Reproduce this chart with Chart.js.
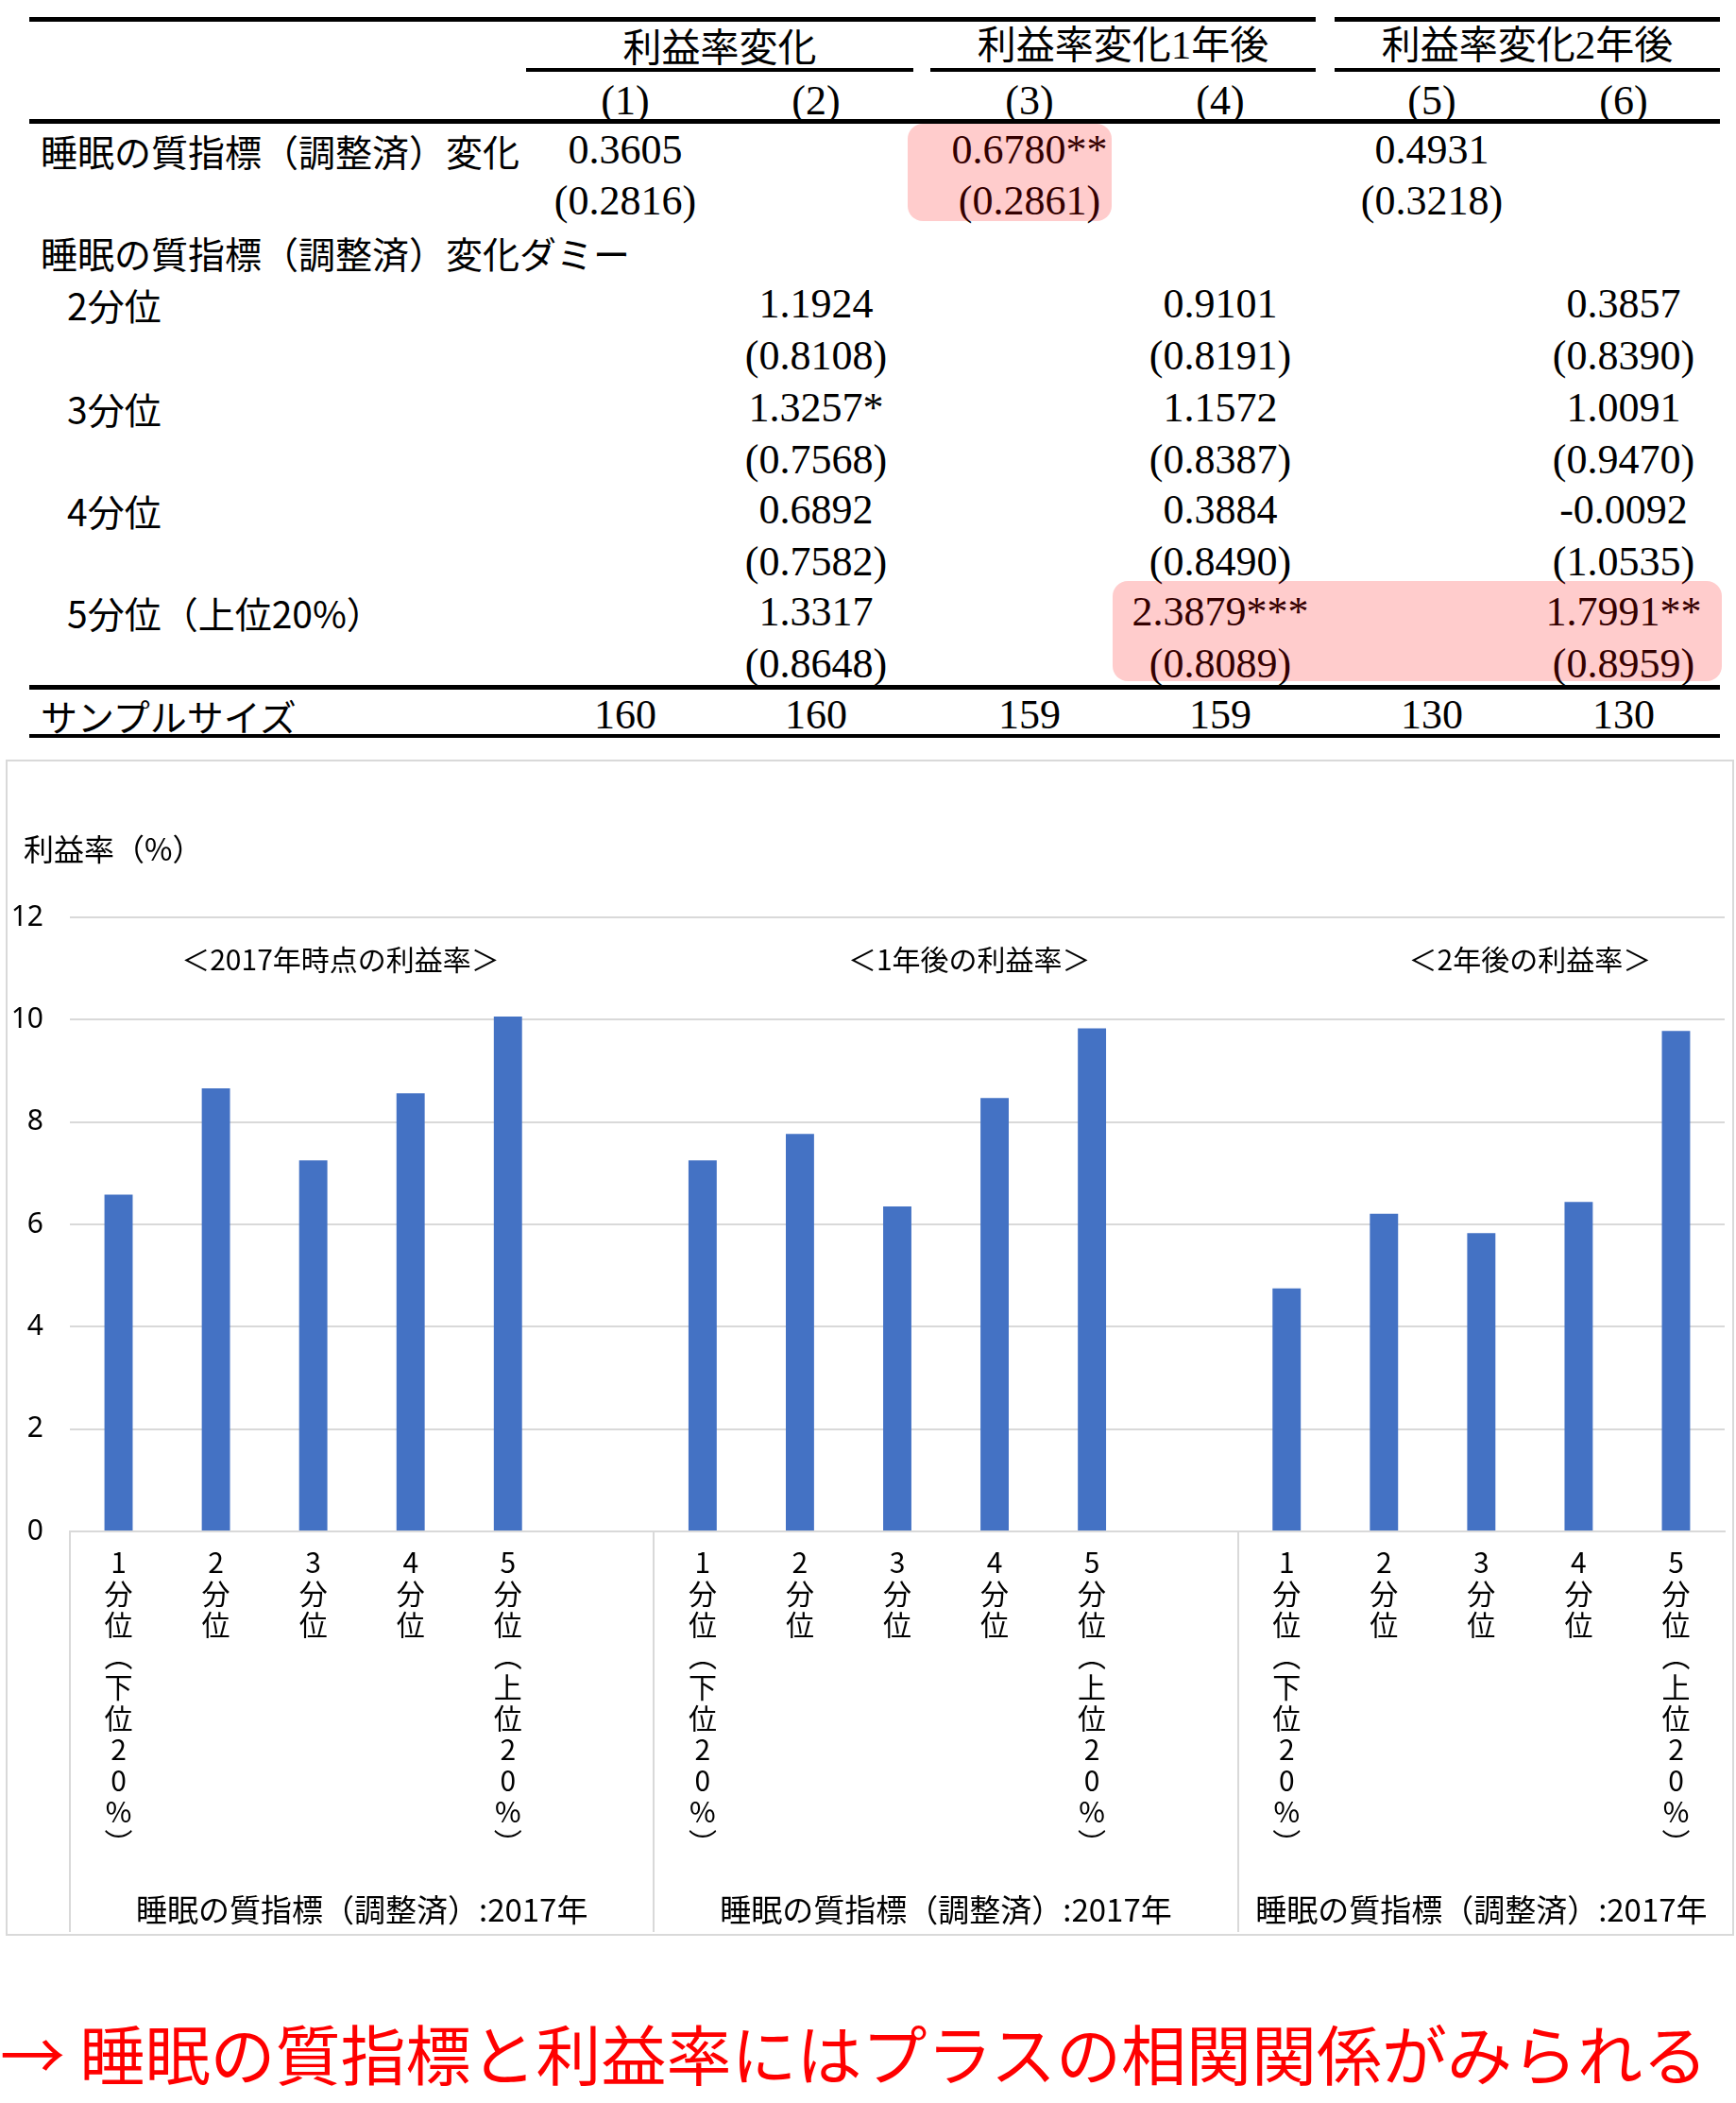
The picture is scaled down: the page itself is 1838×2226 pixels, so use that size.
<!DOCTYPE html>
<html lang="ja">
<head>
<meta charset="utf-8">
<script src="https://cdn.jsdelivr.net/npm/chart.js@4.4.1/dist/chart.umd.min.js"></script>
<style>
html,body{margin:0;padding:0;background:#fff;}
body{width:1838px;height:2226px;position:relative;overflow:hidden;font-family:"Noto Sans CJK JP",sans-serif;}
.t{position:absolute;white-space:nowrap;line-height:1;color:#000;}
.jp{font-family:"Noto Sans CJK JP",sans-serif;transform:translateY(-50%);}
.jpc{font-family:"Noto Sans CJK JP",sans-serif;transform:translate(-50%,-50%);}
.jpc .d{font-family:"Liberation Serif","Times New Roman",serif;font-size:1.05em;}
.num{font-family:"Liberation Serif","Times New Roman",serif;font-size:44px;transform:translate(-50%,-50%);}
.rule{position:absolute;background:#000;}
.hl{position:absolute;background:rgba(255,0,0,0.2);border-radius:16px;z-index:5;}
#chartBox{position:absolute;left:6px;top:804px;width:1830px;height:1245px;border:2px solid #d9d9d9;box-sizing:border-box;}
#chartBox canvas{display:block;}
#note{position:absolute;left:0;top:2172px;transform:translateY(-50%);font-size:69px;line-height:1;color:#ff0000;white-space:nowrap;font-family:"Noto Sans CJK JP",sans-serif;}
</style>
</head>
<body>
<div id="table"></div>
<div id="chartBox"><canvas id="c" width="1826" height="1241"></canvas></div>
<div id="note"></div>
<script>
// ---------- table data ----------
const tableGroups = ['利益率変化', '利益率変化1年後', '利益率変化2年後'];
const colNums = ['(1)', '(2)', '(3)', '(4)', '(5)', '(6)'];
const contLabel = '睡眠の質指標（調整済）変化';
const contCoef = ['0.3605', '', '0.6780**', '', '0.4931', ''];
const contSE = ['(0.2816)', '', '(0.2861)', '', '(0.3218)', ''];
const dummyLabel = '睡眠の質指標（調整済）変化ダミー';
const dummyRows = ['2分位', '3分位', '4分位', '5分位（上位20%）'];
const q2Coef = ['', '1.1924', '', '0.9101', '', '0.3857'];
const q2SE = ['', '(0.8108)', '', '(0.8191)', '', '(0.8390)'];
const q3Coef = ['', '1.3257*', '', '1.1572', '', '1.0091'];
const q3SE = ['', '(0.7568)', '', '(0.8387)', '', '(0.9470)'];
const q4Coef = ['', '0.6892', '', '0.3884', '', '-0.0092'];
const q4SE = ['', '(0.7582)', '', '(0.8490)', '', '(1.0535)'];
const q5Coef = ['', '1.3317', '', '2.3879***', '', '1.7991**'];
const q5SE = ['', '(0.8648)', '', '(0.8089)', '', '(0.8959)'];
const sampleLabel = 'サンプルサイズ';
const sampleSize = ['160', '160', '159', '159', '130', '130'];

// ---------- chart data ----------
const categories = ['1分位（下位20%）', '2分位', '3分位', '4分位', '5分位（上位20%）'];
const periodTitles = ['＜2017年時点の利益率＞', '＜1年後の利益率＞', '＜2年後の利益率＞'];
const periodAxisLabel = '睡眠の質指標（調整済）:2017年';
const yAxisTitle = '利益率（%）';
const profitRate2017 = [6.58, 8.66, 7.25, 8.56, 10.06];
const profitRate1y = [7.25, 7.77, 6.35, 8.47, 9.83];
const profitRate2y = [4.75, 6.21, 5.83, 6.44, 9.78];
const yTickValues = [0, 2, 4, 6, 8, 10, 12];
const noteText = '→ 睡眠の質指標と利益率にはプラスの相関関係がみられる';

// ---------- table layout ----------
const colX = [662, 864, 1090, 1292, 1516, 1719];
const groupX = [762, 1189, 1617];
const tbl = document.getElementById('table');
function addText(cls, txt, x, y, size, serifDigits) {
  const d = document.createElement('div');
  d.className = 't ' + cls;
  if (serifDigits) {
    Array.from(txt).forEach(ch => {
      const s = document.createElement('span');
      if (/[0-9]/.test(ch)) s.className = 'd';
      s.textContent = ch;
      d.appendChild(s);
    });
  } else {
    d.textContent = txt;
  }
  d.style.left = x + 'px';
  d.style.top = y + 'px';
  if (size) d.style.fontSize = size + 'px';
  tbl.appendChild(d);
}
function addRule(x1, x2, y, h) {
  const d = document.createElement('div');
  d.className = 'rule';
  d.style.left = x1 + 'px'; d.style.width = (x2 - x1) + 'px';
  d.style.top = y + 'px'; d.style.height = h + 'px';
  tbl.appendChild(d);
}
function addRow(vals, y) { vals.forEach((v, i) => { if (v) addText('num', v, colX[i], y); }); }

addRule(31, 1393, 18, 5); addRule(1413, 1821, 18, 5);
tableGroups.forEach((g, i) => addText('jpc', g, groupX[i], 47, 41, true));
addRule(557, 967, 72, 4); addRule(985, 1393, 72, 4); addRule(1413, 1821, 72, 4);
addRow(colNums, 107);
addRule(31, 1821, 126, 5);
addText('jp', contLabel, 43, 159, 39);
addRow(contCoef, 159); addRow(contSE, 213);
addText('jp', dummyLabel, 43, 267, 39);
const dRowsY = [322, 432, 540, 648];
const dCoefs = [q2Coef, q3Coef, q4Coef, q5Coef];
const dSEs = [q2SE, q3SE, q4SE, q5SE];
dummyRows.forEach((r, i) => {
  addText('jp', r, 71, dRowsY[i], 39);
  addRow(dCoefs[i], dRowsY[i]);
  addRow(dSEs[i], dRowsY[i] + 55);
});
addRule(31, 1821, 725, 5);
addText('jp', sampleLabel, 43, 757, 39);
addRow(sampleSize, 757);
addRule(31, 1821, 777, 4);
// highlight overlays
[[961, 131, 216, 103], [1178, 615, 645, 106]].forEach(b => {
  const d = document.createElement('div');
  d.className = 'hl';
  d.style.left = b[0] + 'px'; d.style.top = b[1] + 'px';
  d.style.width = b[2] + 'px'; d.style.height = b[3] + 'px';
  tbl.appendChild(d);
});
document.getElementById('note').textContent = noteText;

// ---------- chart ----------
const toVertical = s => Array.from(s).map(ch => ch === '（' ? '︵' : ch === '）' ? '︶' : ch);
const labels = [], values = [];
[profitRate2017, profitRate1y, profitRate2y].forEach((series, g) => {
  categories.forEach((c, i) => { labels.push(toVertical(c)); values.push(series[i]); });
  if (g < 2) { labels.push(''); values.push(null); }
});
const titleSlots = [2.78, 9.24, 15.0];
const groupSpans = [[0, 6], [6, 12], [12, 17]];
const JP = '"Noto Sans CJK JP", sans-serif';

const overlay = {
  id: 'overlay',
  afterDraw(chart) {
    const { ctx, chartArea, scales: { x, y } } = chart;
    const slot = x.getPixelForValue(1) - x.getPixelForValue(0);
    const edge = i => x.getPixelForValue(0) - slot / 2 + i * slot;
    ctx.save();
    ctx.strokeStyle = '#d9d9d9'; ctx.lineWidth = 2;
    [0, 6, 12].forEach(i => {
      const px = Math.round(edge(i));
      ctx.beginPath(); ctx.moveTo(px, chartArea.bottom); ctx.lineTo(px, chart.height - 2); ctx.stroke();
    });
    ctx.fillStyle = '#000'; ctx.textAlign = 'center'; ctx.textBaseline = 'middle';
    ctx.font = '33px ' + JP;
    groupSpans.forEach(([a, b]) => ctx.fillText(periodAxisLabel, (edge(a) + edge(b)) / 2, chart.height - 26));
    ctx.font = '30px ' + JP;
    periodTitles.forEach((t, i) => ctx.fillText(t, edge(0) + titleSlots[i] * slot, y.getPixelForValue(11.17)));
    ctx.textAlign = 'left';
    ctx.font = '32px ' + JP;
    ctx.fillText(yAxisTitle, 17, 93);
    ctx.restore();
  }
};

function draw() {
  new Chart(document.getElementById('c'), {
    type: 'bar',
    data: { labels, datasets: [{ data: values, backgroundColor: '#4472c4', barPercentage: 0.29, categoryPercentage: 1.0 }] },
    options: {
      responsive: false, animation: false, devicePixelRatio: 1,
      layout: { padding: { top: 165, right: 8, left: 0, bottom: 0 } },
      plugins: { legend: { display: false }, tooltip: { enabled: false } },
      scales: {
        x: {
          grid: { display: false, drawTicks: false },
          border: { display: true, color: '#d9d9d9', width: 2 },
          ticks: { autoSkip: false, maxRotation: 0, minRotation: 0, padding: 16, color: '#000',
            font: { family: JP, size: 30, lineHeight: 1.1 } },
          afterFit: s => { s.height = 426; }
        },
        y: {
          min: 0, max: 12,
          grid: { color: '#d9d9d9', lineWidth: 2, drawTicks: false },
          border: { display: false },
          ticks: { padding: 28, color: '#000', font: { family: '"Noto Sans", sans-serif', size: 30 } },
          afterBuildTicks: s => { s.ticks = yTickValues.map(v => ({ value: v })); },
          afterFit: s => { s.width = 66; }
        }
      }
    },
    plugins: [overlay]
  });
}
Promise.all([
  document.fonts.load('30px "Noto Sans CJK JP"'),
  document.fonts.load('28px "Noto Sans"'),
  document.fonts.load('44px "Liberation Serif"')
]).then(draw, draw);
</script>
</body>
</html>
